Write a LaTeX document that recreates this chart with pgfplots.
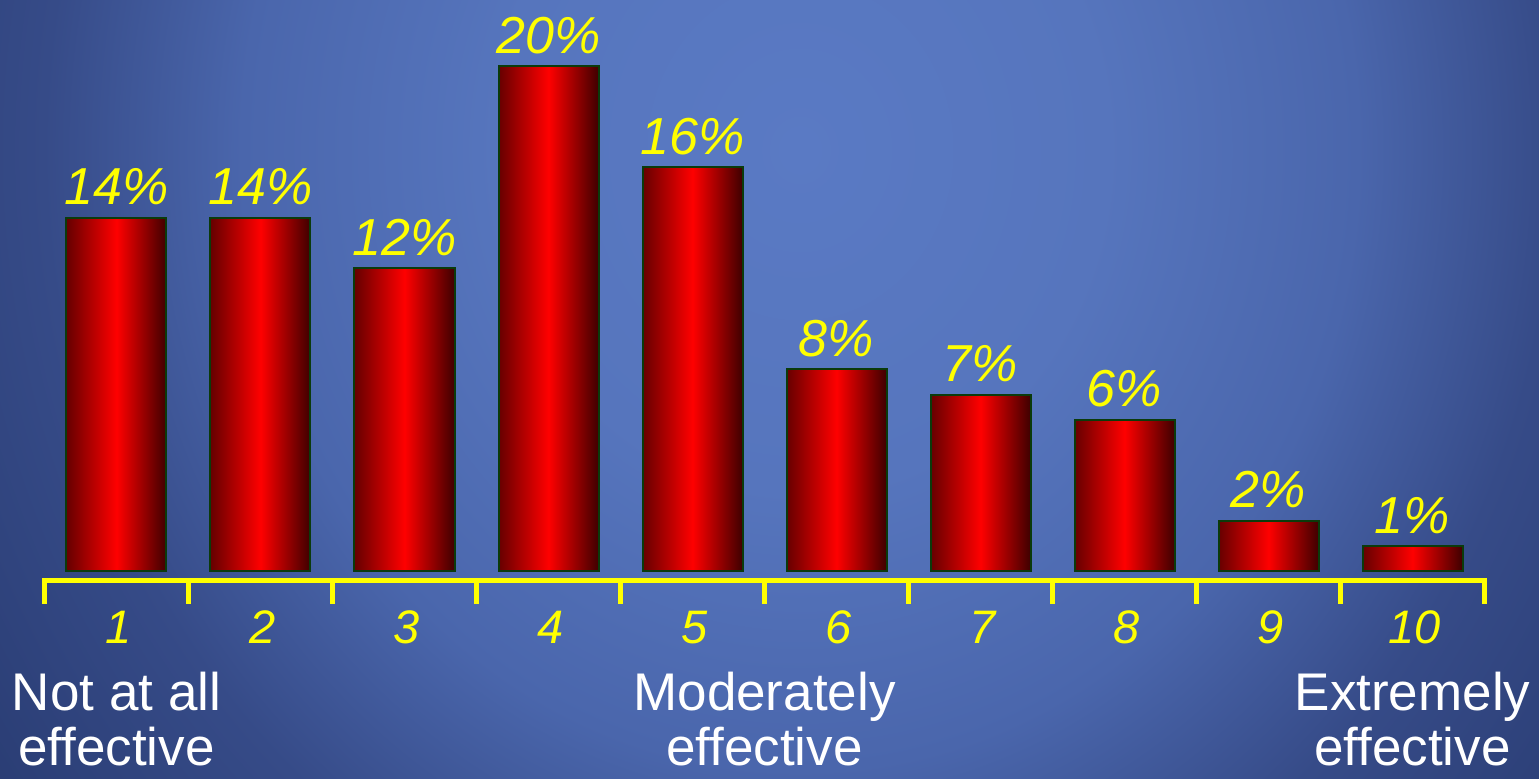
\documentclass[border=0pt]{standalone}
\usepackage{fontspec}
\setmainfont{Liberation Sans}
\usepackage{pgfplots}
\pgfplotsset{compat=1.18}
\definecolor{bgA}{HTML}{5A7AC4}
\definecolor{bgB}{HTML}{5675BD}
\definecolor{bgC}{HTML}{4A66AC}
\definecolor{bgD}{HTML}{364B88}
\definecolor{bgE}{HTML}{2A3D74}
\definecolor{barL}{HTML}{660000}
\definecolor{barM}{HTML}{FF0000}
\definecolor{barR}{HTML}{3F0000}
\definecolor{edgegreen}{HTML}{0B3B0B}
\definecolor{ylw}{HTML}{FFFF00}
\pgfdeclareradialshading{bgshade}{\pgfpoint{0bp}{0bp}}{color(0bp)=(bgA); color(8.5bp)=(bgB); color(15.5bp)=(bgC); color(21bp)=(bgD); color(27.5bp)=(bgE); color(40bp)=(bgE)}
\pgfplotsset{
  mybar/.style={ybar, bar width=50pt, bar shift=0pt, draw=edgegreen, line width=1pt,
    left color=barL, right color=barR, middle color=barM,
    nodes near coords={\pgfmathprintnumber{\pgfplotspointmeta}\%},
    every node near coord/.append style={text=ylw, font=\fontsize{26}{30}\selectfont\itshape, anchor=base, yshift=6.5pt, inner sep=0pt}},
}
\begin{document}
\begin{tikzpicture}
\path[use as bounding box] (0,0) rectangle (769.5pt,389pt);
\begin{scope}
\clip (0,0) rectangle (769.5pt,389pt);
\shade[shading=bgshade] (-50pt,-186pt) rectangle (850pt,814pt);
\end{scope}
\begin{axis}[
  at={(22.25pt,98.75pt)}, anchor=south west,
  scale only axis, width=720pt, height=257.25pt,
  xmin=0.5, xmax=10.5, ymin=-0.36, ymax=20,
  axis x line=bottom, axis y line=none,
  x axis line style={ylw, line width=2.5pt, line cap=rect, -},
  xtick={1,...,10},
  major tick length=0pt,
  minor xtick={0.5,1.5,...,10.5},
  minor tick length=11.5pt,
  tick align=outside,
  minor tick style={ylw, line width=2.5pt},
  /pgf/number format/assume math mode=true,
  xticklabel style={font=\fontsize{23.5}{27}\selectfont\itshape, text=ylw, anchor=base, yshift=-31.25pt, xshift=1pt},
  ytick=\empty,
  clip=false,
]
\addplot[mybar] coordinates {(1,14)};
\addplot[mybar] coordinates {(2,14)};
\addplot[mybar] coordinates {(3,12)};
\addplot[mybar] coordinates {(4,20)};
\addplot[mybar] coordinates {(5,16)};
\addplot[mybar] coordinates {(6,8)};
\addplot[mybar] coordinates {(7,7)};
\addplot[mybar] coordinates {(8,6)};
\addplot[mybar] coordinates {(9,2)};
\addplot[mybar] coordinates {(10,1)};
\node[anchor=base, text=white, font=\fontsize{26.5}{30}\selectfont, inner sep=0pt, yshift=-69.5pt] at (axis cs:1,0) {Not at all};
\node[anchor=base, text=white, font=\fontsize{26.5}{30}\selectfont, inner sep=0pt, yshift=-97pt] at (axis cs:1,0) {effective};
\node[anchor=base, text=white, font=\fontsize{26.5}{30}\selectfont, inner sep=0pt, yshift=-69.5pt] at (axis cs:5.5,0) {Moderately};
\node[anchor=base, text=white, font=\fontsize{26.5}{30}\selectfont, inner sep=0pt, yshift=-97pt] at (axis cs:5.5,0) {effective};
\node[anchor=base, text=white, font=\fontsize{26.5}{30}\selectfont, inner sep=0pt, yshift=-69.5pt] at (axis cs:10,0) {Extremely};
\node[anchor=base, text=white, font=\fontsize{26.5}{30}\selectfont, inner sep=0pt, yshift=-97pt] at (axis cs:10,0) {effective};
\end{axis}
\end{tikzpicture}
\end{document}
